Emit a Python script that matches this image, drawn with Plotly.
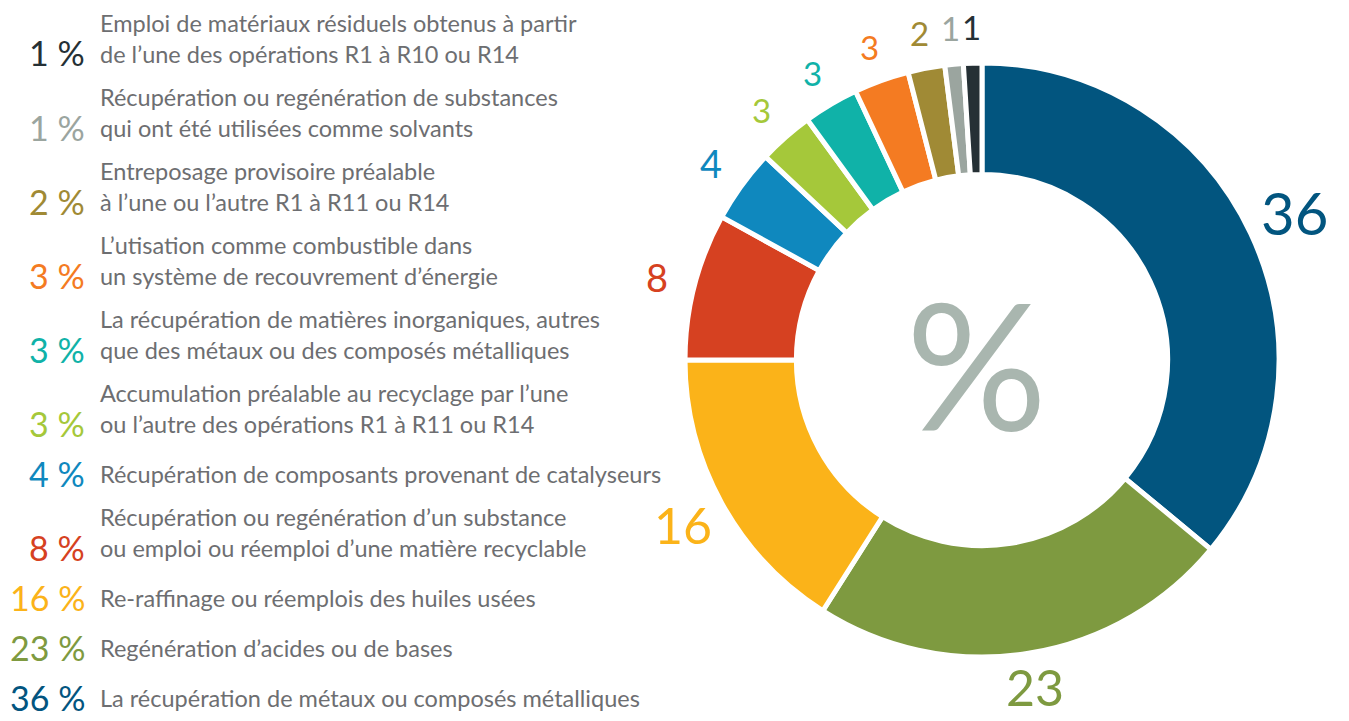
import math
import plotly.graph_objects as go

# ---- data (pie order: clockwise from 12 o'clock) ----
values = [36, 23, 16, 8, 4, 3, 3, 3, 2, 1, 1]
colors = ["#02557F", "#7E9A40", "#FBB319", "#D64121", "#0F88BE", "#A5C83A",
          "#10B2A8", "#F47B22", "#A08A35", "#9BA59F", "#253035"]
descriptions = [
    "La récupération de métaux ou composés métalliques",
    "Regénération d’acides ou de bases",
    "Re-raffinage ou réemplois des huiles usées",
    "Récupération ou regénération d’un substance<br>ou emploi ou réemploi d’une matière recyclable",
    "Récupération de composants provenant de catalyseurs",
    "Accumulation préalable au recyclage par l’une<br>ou l’autre des opérations R1 à R11 ou R14",
    "La récupération de matières inorganiques, autres<br>que des métaux ou des composés métalliques",
    "L’utisation comme combustible dans<br>un système de recouvrement d’énergie",
    "Entreposage provisoire préalable<br>à l’une ou l’autre R1 à R11 ou R14",
    "Récupération ou regénération de substances<br>qui ont été utilisées comme solvants",
    "Emploi de matériaux résiduels obtenus à partir<br>de l’une des opérations R1 à R10 ou R14",
]
center_symbol = "%"

W, H = 1349, 721
OFF = 8  # page body margin offset
FONT = "Lato"
TEXT_GREY = "#6D6E71"

def px(x):
    return (x - OFF) / W

def py(y):
    return 1 - (y - OFF) / H

cx, cy, R = 982, 360, 297

fig = go.Figure()
fig.add_trace(go.Pie(
    values=values,
    labels=[d.replace("<br>", " ") for d in descriptions],
    marker=dict(colors=colors, line=dict(color="white", width=5)),
    hole=0.625,
    sort=False,
    direction="clockwise",
    rotation=0,
    textinfo="none",
    hoverinfo="label+value",
    showlegend=False,
    domain=dict(x=[px(cx - R), px(cx + R)], y=[py(cy + R), py(cy - R)]),
))

annotations = []

# centre symbol
annotations.append(dict(x=px(cx - 6), y=py(cy + 2), xref="paper", yref="paper",
                        text=center_symbol, showarrow=False, borderpad=0,
                        font=dict(family=FONT, size=176, color="#A9B6AF"),
                        xanchor="center", yanchor="middle"))

# outside value labels
total = sum(values)
cum = 0
for v, c in zip(values, colors):
    mid = (cum + v / 2) / total * 2 * math.pi
    cum += v
    size = 58 if v >= 30 else (50 if v >= 10 else (38 if v >= 4 else 33))
    sx, sy = math.sin(mid), -math.cos(mid)
    r = 333 + (size - 33) * 0.5
    x = cx + r * sx
    y = cy + r * sy
    # keep the label box inside the visible page
    half = 0.68 * size
    y = max(OFF + half - 8, min(y, H - half))
    annotations.append(dict(x=px(x), y=py(y), xref="paper", yref="paper",
                            text=str(v), showarrow=False, borderpad=0,
                            font=dict(family=FONT, size=size, color=c),
                            xanchor="center", yanchor="middle"))

# left legend (top to bottom = reverse of pie order)
DESC_SIZE = 23.5
y_cur = 53
prev = None
for v, c, d in list(zip(values, colors, descriptions))[::-1]:
    nlines = d.count("<br>") + 1
    if prev is not None:
        y_cur += 50 + 24 * (nlines - 1)
    prev = nlines
    annotations.append(dict(x=px(86), y=py(y_cur), xref="paper", yref="paper",
                            text=f"{v} %", showarrow=False, borderpad=0,
                            font=dict(family=FONT, size=34, color=c),
                            xanchor="right", yanchor="middle"))
    yc = y_cur - (nlines - 1) * 1.3 * DESC_SIZE / 2
    annotations.append(dict(x=px(99), y=py(yc + 1), xref="paper", yref="paper",
                            text=d, showarrow=False, align="left", borderpad=0,
                            font=dict(family=FONT, size=DESC_SIZE, color=TEXT_GREY),
                            xanchor="left", yanchor="middle"))

fig.update_layout(
    width=W, height=H,
    margin=dict(l=0, r=0, t=0, b=0),
    paper_bgcolor="white", plot_bgcolor="white",
    annotations=annotations,
)

fig.write_html("out.html")
